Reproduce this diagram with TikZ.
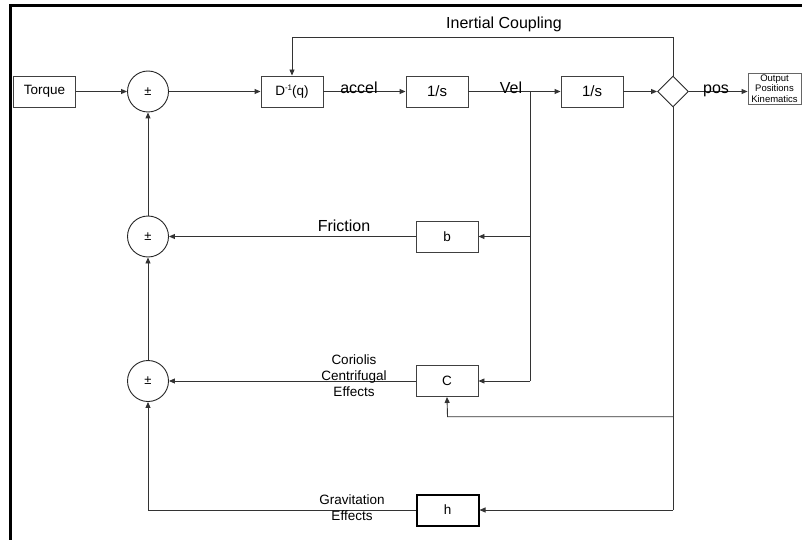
\documentclass[tikz,border=0pt]{standalone}
\usepackage{fontspec}
\setmainfont{Liberation Sans}
\usetikzlibrary{arrows.meta,shapes.geometric}
\tikzset{
  blk/.style={draw=black!75, line width=0.9pt, rectangle, minimum width=62pt, minimum height=31pt, inner sep=0pt, font=\fontsize{13.5}{16}\selectfont},
  sumc/.style={draw=black!85, line width=0.9pt, circle, minimum size=41pt, inner sep=0pt, font=\fontsize{13}{15}\selectfont},
  wire/.style={draw=black!80, line width=0.9pt},
  arr/.style={wire, -{Triangle[length=6pt,width=5pt]}},
  lbl/.style={font=\fontsize{16}{19}\selectfont, inner sep=0pt},
  slbl/.style={font=\fontsize{13.5}{16.3}\selectfont, inner sep=0pt, align=center},
}
\begin{document}
\begin{tikzpicture}[x=1pt,y=-1pt]
\useasboundingbox (0,0) rectangle (802,540);
% frame
\draw[line width=2.5pt] (10.5,541) -- (10.5,5.5) -- (803,5.5);

% forward path
\node[blk] (torque) at (44.5,91.5) {Torque};
\node[sumc] (s1) at (148,91.5) {±};
\node[blk] (D) at (292,91.5) {D\raisebox{0.42em}{\fontsize{8}{8}\selectfont -1}(q)};
\node[blk, font=\fontsize{15}{17}\selectfont] (I1) at (437,91.5) {1/s};
\node[blk, font=\fontsize{15}{17}\selectfont] (I2) at (592,91.5) {1/s};
\node[draw=black!85, line width=0.9pt, diamond, aspect=1, minimum width=31pt, minimum height=31pt, inner sep=0pt] (dia) at (673,91.5) {};
\node[blk, draw=black!60, minimum width=53pt, minimum height=31pt, font=\fontsize{9.5}{10.5}\selectfont, align=center] (out) at (774.5,88.5) {Output\\Positions\\Kinematics};

% feedback blocks
\node[sumc] (s2) at (148,236.5) {±};
\node[sumc] (s3) at (148,381) {±};
\node[blk] (b) at (447,236.5) {b};
\node[blk] (C) at (447,381) {C};
\node[blk, draw=black, line width=2pt] (h) at (447.5,510) {h};

% forward connectors
\draw[arr] (torque) -- (s1);
\draw[arr] (s1) -- (D);
\draw[arr] (D) -- (I1);
\draw[arr] (I1) -- (I2);
\draw[arr] (I2) -- (dia);
\draw[arr] (dia) -- (out.west |- dia);

% labels on forward path
\node[lbl, anchor=base] (accel) at (359,93.5) {accel};
\node[lbl, anchor=base] (vel) at (511,94) {Vel};
\node[lbl, anchor=base] (pos) at (716,93.5) {pos};
\node[lbl, anchor=base] (inert) at (504,28.3) {Inertial Coupling};

% inertial coupling loop
\coordinate (ic1) at (673,37);
\coordinate (ic2) at (292,37);
\draw[arr] (dia.north) -- (ic1) -- (ic2) -- (D.north);

% velocity branch
\coordinate (vb) at (530,91.5);
\coordinate (vbb) at (530,236.5);
\coordinate (vbc) at (530,381);
\draw[wire] (vb) -- (vbc);
\draw[arr] (vbb) -- (b.east);
\draw[arr] (vbc) -- (C.east);

% position branch
\coordinate (pc) at (673,416.7);
\coordinate (pc2) at (447.5,416.7);
\coordinate (ph) at (673,510);
\draw[wire] (dia.south) -- (ph);
\draw[arr] (ph) -- (h.east);
\draw[arr] (pc) -- (pc2) -- (C.south);

% returns to summers
\draw[arr] (b.west) -- (s2.east);
\draw[arr] (C.west) -- (s3.east);
\coordinate (hl) at (148,510);
\draw[arr] (h.west) -- (hl) -- (s3.south);
\draw[arr] (s3.north) -- (s2.south);
\draw[arr] (s2.north) -- (s1.south);

% feedback labels
\node[lbl, anchor=base] (fric) at (344,231) {Friction};
\node[slbl] (cor) at (354,375.5) {Coriolis\\Centrifugal\\Effects};
\node[slbl] (grav) at (352,507.5) {Gravitation\\Effects};
\end{tikzpicture}
\end{document}
